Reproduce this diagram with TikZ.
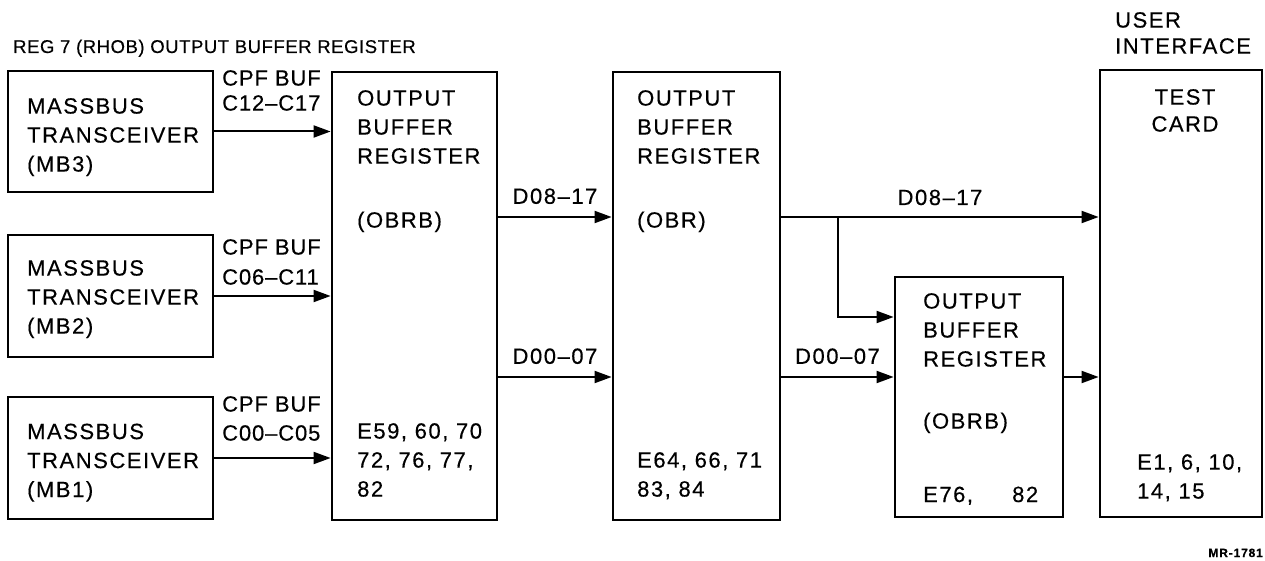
\documentclass[tikz,border=0pt]{standalone}
\usepackage{fontspec}
\setmainfont{Liberation Sans}[Ligatures=TeX,LetterSpace=7,FakeBold=0.4]
\newfontfamily\titlefont{Liberation Sans}[Ligatures=TeX,LetterSpace=3,FakeBold=0.4]
\newfontfamily\cpffont{Liberation Sans}[Ligatures=TeX,LetterSpace=4,FakeBold=0.4]
\usetikzlibrary{arrows.meta,calc}
\begin{document}
\begin{tikzpicture}[x=1pt,y=-1pt,
  box/.style={draw, line width=2.8pt, inner sep=0pt},
  arr/.style={line width=2pt, -{Triangle[length=17pt,width=12pt]}},
  txt/.style={inner sep=0pt, font=\fontsize{22}{29}\selectfont, align=left, anchor=north west},
  cpf/.style={txt, font=\cpffont\fontsize{22}{29}\selectfont},
  lbl/.style={inner sep=0pt, font=\fontsize{22}{29}\selectfont, anchor=base}]
\useasboundingbox (0,0) rectangle (1265,561);
% boxes
\node[box, minimum width=205pt, minimum height=121pt] (mb3) at (110.5,131.5) {};
\node[box, minimum width=205pt, minimum height=122pt] (mb2) at (110.5,296) {};
\node[box, minimum width=205pt, minimum height=122pt] (mb1) at (110.5,458) {};
\node[box, minimum width=165pt, minimum height=448pt] (obrb1) at (414.5,296) {};
\node[box, minimum width=167pt, minimum height=448pt] (obr) at (696.5,296) {};
\node[box, minimum width=168pt, minimum height=240pt] (obrb2) at (979,397) {};
\node[box, minimum width=162pt, minimum height=447pt] (tc) at (1181,293.5) {};
% texts
\node[inner sep=0pt, font=\titlefont\fontsize{18.5}{24}\selectfont, anchor=base west] (title) at (13,53) {REG 7 (RHOB) OUTPUT BUFFER REGISTER};
\node[txt] (t3) at (27,98) {MASSBUS\\TRANSCEIVER\\(MB3)};
\node[txt] (t2) at (27,260) {MASSBUS\\TRANSCEIVER\\(MB2)};
\node[txt] (t1) at (27,423.5) {MASSBUS\\TRANSCEIVER\\(MB1)};
\node[cpf] (c3) at (222,70) {CPF BUF\\[-4pt]C12–C17};
\node[cpf] (c2) at (222,239) {CPF BUF\\[1pt]C06–C11};
\node[cpf] (c1) at (222,396) {CPF BUF\\C00–C05};
\node[txt] (o1) at (357,90) {OUTPUT\\BUFFER\\REGISTER\\[35pt](OBRB)};
\node[txt] (e1) at (357,423) {E59, 60, 70\\72, 76, 77,\\82};
\node[txt] (o2) at (637,90) {OUTPUT\\BUFFER\\REGISTER\\[35pt](OBR)};
\node[txt] (e2) at (637,452) {E64, 66, 71\\83, 84};
\node[txt] (o3) at (923,293) {OUTPUT\\BUFFER\\REGISTER\\[33pt](OBRB)};
\node[lbl, anchor=base west] (e3) at (923,502) {E76,};
\node[lbl, anchor=base west] (e3b) at (1012,502) {82};
\node[txt, align=center, anchor=north] (tct) at (1185,89) {TEST\\[-2pt]CARD};
\node[txt] (e4) at (1137,454) {E1, 6, 10,\\14, 15};
\node[txt] (ui) at (1115,12) {USER\\[-3pt]INTERFACE};
\node[inner sep=0pt, font=\bfseries\fontsize{12}{14}\selectfont, anchor=base east] (mr) at (1263,557) {MR-1781};
% connectors
\coordinate (d8) at (0,217);
\coordinate (d0) at (0,377);
\coordinate (b2) at (0,317);
\coordinate (br) at (838,217);
\draw[arr] (mb3.east) -- (mb3.east -| obrb1.west);
\draw[arr] (mb2.east) -- (mb2.east -| obrb1.west);
\draw[arr] (mb1.east) -- (mb1.east -| obrb1.west);
\draw[arr] (obrb1.east |- d8) -- node[lbl, above=12pt] (l1) {D08–17} (obr.west |- d8);
\draw[arr] (obrb1.east |- d0) -- node[lbl, above=12pt] (l2) {D00–07} (obr.west |- d0);
\draw[arr] (obr.east |- d8) -- (tc.west |- d8);
\node[lbl] (l3) at (940,205) {D08–17};
\draw[arr] (br) |- (obrb2.west |- b2);
\draw[arr] (obr.east |- d0) -- node[lbl, above=12pt] (l4) {D00–07} (obrb2.west |- d0);
\draw[arr] (obrb2.east |- d0) -- (tc.west |- d0);
\end{tikzpicture}
\end{document}
